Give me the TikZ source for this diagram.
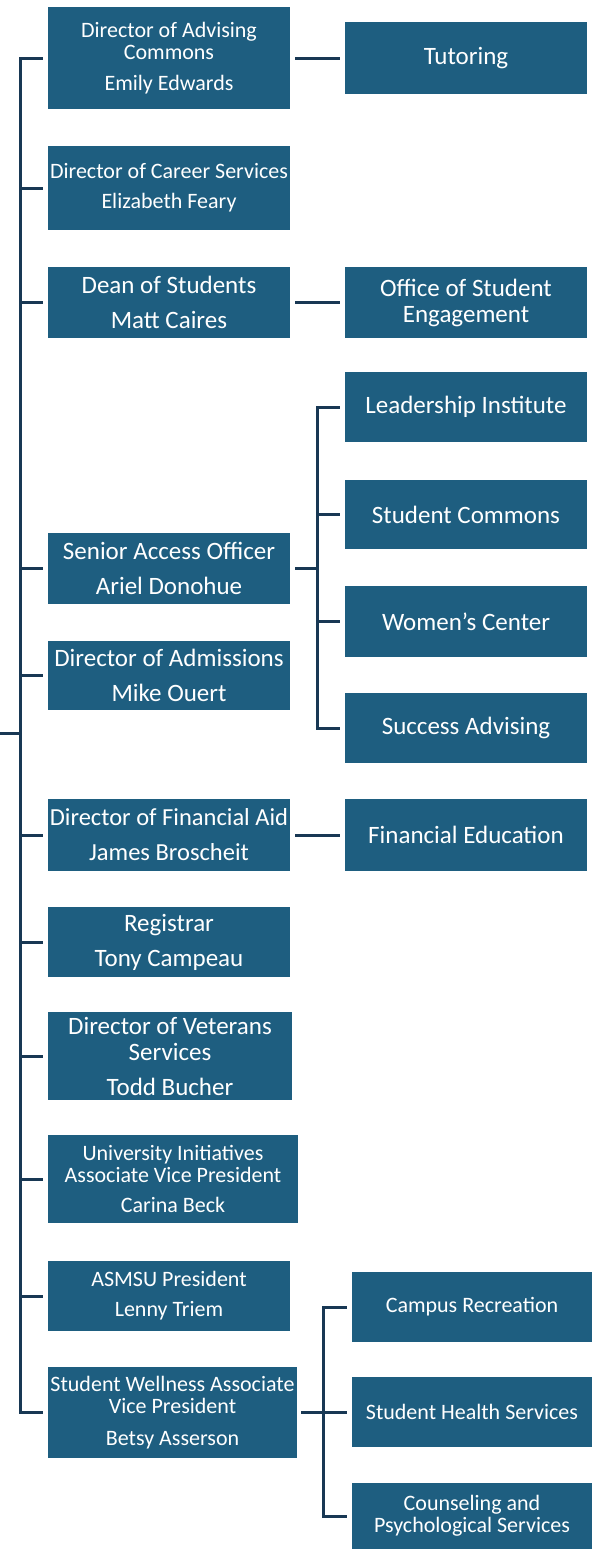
\documentclass[tikz,border=0pt]{standalone}
\usepackage{fontspec}
\setmainfont{Carlito}
\definecolor{boxc}{RGB}{30,94,128}
\definecolor{linec}{RGB}{24,56,84}
\begin{document}
\begin{tikzpicture}[x=1pt,y=-1pt,
  box/.style={fill=boxc, text=white, inner sep=0pt, align=center},
  big/.style={font=\fontsize{25}{26}\selectfont},
  small/.style={font=\fontsize{22}{22}\selectfont},
  conn/.style={draw=linec, line width=3pt}]
\useasboundingbox[fill=white] (0,0) rectangle (593,1551);
% left column
\node[box,small,minimum width=242pt,minimum height=102pt] (adv) at (169,58) {Director of Advising\\Commons\\[9pt]Emily Edwards};
\node[box,small,minimum width=242pt,minimum height=84pt] (car) at (169,188) {Director of Career Services\\[8pt]Elizabeth Feary};
\node[box,big,minimum width=242pt,minimum height=71pt] (dean) at (169,302.5) {Dean of Students\\[9pt]Matt Caires};
\node[box,big,minimum width=242pt,minimum height=71pt] (sen) at (169,568.5) {Senior Access Officer\\[9pt]Ariel Donohue};
\node[box,big,minimum width=242pt,minimum height=69pt] (adm) at (169,675.5) {Director of Admissions\\[9pt]Mike Ouert};
\node[box,font=\fontsize{24.5}{26}\selectfont,minimum width=242pt,minimum height=72pt] (fin) at (169,835) {Director of Financial Aid\\[9pt]James Broscheit};
\node[box,big,minimum width=242pt,minimum height=70pt] (reg) at (169,942) {Registrar\\[9pt]Tony Campeau};
\node[box,big,minimum width=244pt,minimum height=88pt] (vet) at (170,1056) {Director of Veterans\\Services\\[9pt]Todd Bucher};
\node[box,small,minimum width=250pt,minimum height=88pt] (univ) at (173,1179) {University Initiatives\\Associate Vice President\\[8pt]Carina Beck};
\node[box,small,minimum width=242pt,minimum height=70pt] (asmsu) at (169,1296) {ASMSU President\\[8pt]Lenny Triem};
\node[box,small,minimum width=249pt,minimum height=91pt] (well) at (172.5,1412.5) {Student Wellness Associate\\Vice President\\[10pt]Betsy Asserson};
% right column
\node[box,big,minimum width=242pt,minimum height=72pt] (tut) at (466,58) {Tutoring};
\node[box,big,minimum width=242pt,minimum height=71pt] (ose) at (466,302.5) {Office of Student\\Engagement};
\node[box,big,minimum width=242pt,minimum height=70pt] (lead) at (466,407) {Leadership Institute};
\node[box,big,minimum width=242pt,minimum height=69pt] (scom) at (466,514.5) {Student Commons};
\node[box,big,minimum width=242pt,minimum height=71pt] (wom) at (466,621.5) {Women’s Center};
\node[box,big,minimum width=242pt,minimum height=70pt] (succ) at (466,728) {Success Advising};
\node[box,big,minimum width=242pt,minimum height=72pt] (fined) at (466,835) {Financial Education};
\node[box,small,minimum width=240pt,minimum height=70pt] (camp) at (472,1307) {Campus Recreation};
\node[box,small,minimum width=240pt,minimum height=70pt] (health) at (472,1412) {Student Health Services};
\node[box,small,minimum width=240pt,minimum height=66pt] (couns) at (472,1516) {Counseling and\\Psychological Services};
% trunk coordinates
\coordinate (tk) at (20,0);
\coordinate (root) at (0,733);
\coordinate (st1) at (317,0);
\coordinate (st2) at (323,0);
% main trunk
\draw[conn] ([xshift=-5pt]adv.west) -| (tk |- well.west) -- ([xshift=-5pt]well.west);
\foreach \n in {car,dean,sen,adm,fin,reg,vet,univ,asmsu}
  \draw[conn] ([xshift=-5pt]\n.west) -- (tk |- \n.west);
\draw[conn] (root) -- (tk |- root);
% direct links
\draw[conn] ([xshift=5pt]adv.east) -- ([xshift=-5pt]tut.west);
\draw[conn] ([xshift=5pt]dean.east) -- ([xshift=-5pt]ose.west);
\draw[conn] ([xshift=5pt]fin.east) -- ([xshift=-5pt]fined.west);
% senior access sub-tree
\draw[conn] ([xshift=-5pt]lead.west) -| (st1 |- succ.west) -- ([xshift=-5pt]succ.west);
\draw[conn] ([xshift=-5pt]scom.west) -- (st1 |- scom.west);
\draw[conn] ([xshift=-5pt]wom.west) -- (st1 |- wom.west);
\draw[conn] ([xshift=5pt]sen.east) -- (st1 |- sen.east);
% wellness sub-tree
\draw[conn] ([xshift=-5pt]camp.west) -| (st2 |- couns.west) -- ([xshift=-5pt]couns.west);
\draw[conn] ([xshift=-5pt]health.west) -- (st2 |- health.west);
\draw[conn] ([xshift=4pt]well.east) -- (st2 |- well.east);
\end{tikzpicture}
\end{document}
